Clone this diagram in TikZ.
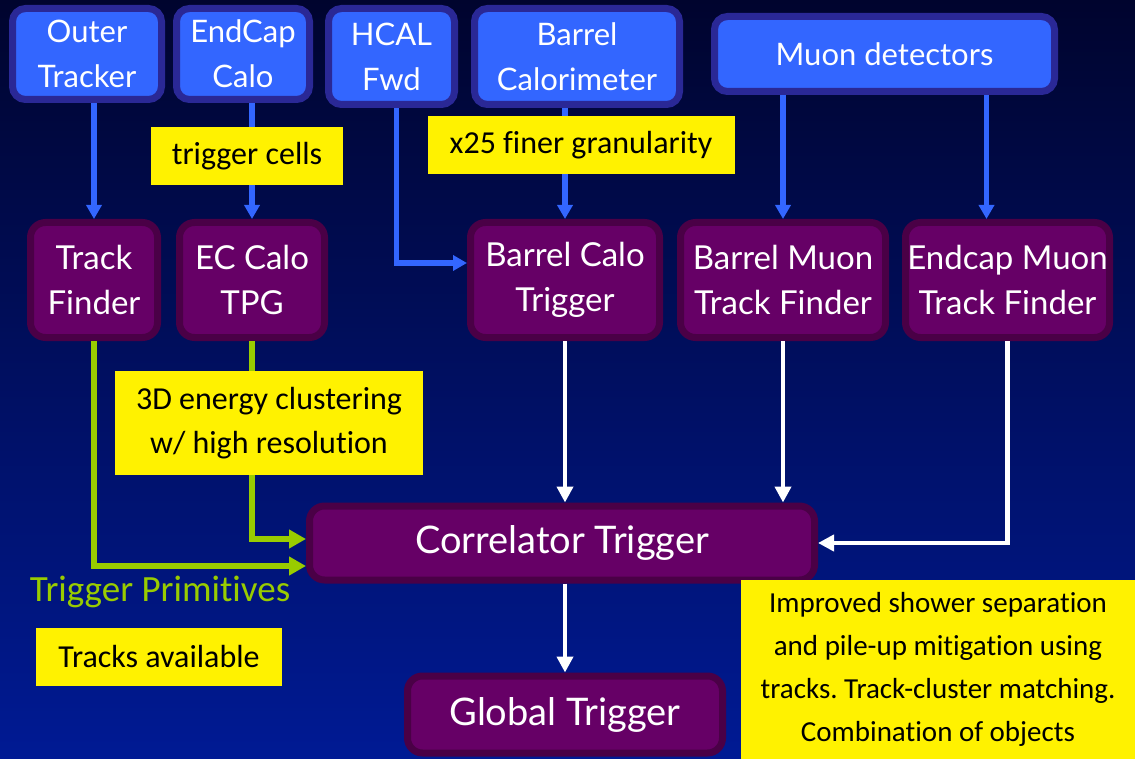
\documentclass[tikz,border=0pt]{standalone}
\usepackage{fontspec}
\setmainfont{Lato}
\newfontfamily\notefont[Ligatures=NoCommon]{Carlito}
\usetikzlibrary{positioning,arrows.meta}
\frenchspacing
\definecolor{bgtop}{RGB}{0,4,46}
\definecolor{bgbot}{RGB}{0,26,148}
\definecolor{detblue}{RGB}{51,102,255}
\definecolor{detedge}{RGB}{42,40,150}
\definecolor{trigpurple}{RGB}{102,0,102}
\definecolor{trigedge}{RGB}{74,0,70}
\definecolor{tpgreen}{RGB}{153,204,0}

\begin{document}
\begin{tikzpicture}[x=1pt,y=-1pt,
    detbox/.style={draw=detedge,fill=detblue,line width=7pt,rounded corners=13pt,text=white,align=center,
      font=\fontsize{31}{45}\selectfont,inner sep=0pt,minimum height=91pt},
    trigbox/.style={draw=trigedge,fill=trigpurple,line width=7pt,rounded corners=15pt,text=white,align=center,
      font=\fontsize{33}{45}\selectfont,inner sep=0pt,minimum height=115pt},
    note/.style={fill=yellow,text=black,align=center,font=\notefont\fontsize{32}{44}\selectfont,inner sep=0pt},
    bluearrow/.style={draw=detblue,line width=5.5pt,-{Triangle[length=14pt,width=15pt]}},
    greenarrow/.style={draw=tpgreen,line width=5.5pt,-{Triangle[length=17pt,width=18pt]}},
    whitearrow/.style={draw=white,line width=4.5pt,-{Triangle[length=16pt,width=16pt]}}]
    \shade[top color=bgtop,bottom color=bgbot] (0,0) rectangle (1135,759);
    \useasboundingbox (0,0) rectangle (1135,759);
    % detectors
    \node[detbox,minimum width=149pt] (ot) at (87,54) {Outer\\Tracker};
    \node[detbox,minimum width=133pt,right=8pt of ot] (ecc) {EndCap\\Calo};
    \node[detbox,minimum width=126pt,minimum height=96pt,right=12pt of ecc,yshift=-2.5pt] (hcal) {HCAL\\Fwd};
    \node[detbox,minimum width=205pt,minimum height=96pt,right=13pt of hcal] (bcal) {Barrel\\Calorimeter};
    \node[detbox,minimum width=340pt,minimum height=75pt,right=28pt of bcal,yshift=2.5pt] (muon) {Muon detectors};
    % trigger processors
    \node[trigbox,minimum width=127pt] (tf) at (94,280) {Track\\Finder};
    \node[trigbox,minimum width=145pt,right=15pt of tf] (ectpg) {EC Calo\\TPG};
    \node[trigbox,minimum width=189pt,right=139pt of ectpg] (bct) {Barrel Calo\\Trigger};
    \node[trigbox,minimum width=205pt,right=14pt of bct] (bmtf) {Barrel Muon\\Track Finder};
    \node[trigbox,minimum width=204pt,right=13pt of bmtf] (emtf) {Endcap Muon\\Track Finder};
    \node[trigbox,minimum width=505pt,minimum height=74pt,font=\fontsize{38}{40}\selectfont] (corr) at (562,543) {Correlator Trigger};
    \node[trigbox,minimum width=315pt,minimum height=77pt,font=\fontsize{38}{40}\selectfont,below=89pt of corr,xshift=3pt] (gt) {Global Trigger};
    % inputs
    \coordinate (emtfin) at ([xshift=-21pt]emtf.north);
    \draw[bluearrow] (tf.north |- ot.south) -- (tf.north);
    \draw[bluearrow] (ectpg.north |- ecc.south) -- (ectpg.north);
    \draw[bluearrow] ([xshift=5pt]hcal.south) |- ([yshift=17pt]bct.west);
    \draw[bluearrow] (bct.north |- bcal.south) -- (bct.north);
    \draw[bluearrow] (bmtf.north |- muon.south) -- (bmtf.north);
    \draw[bluearrow] (emtfin |- muon.south) -- (emtfin);
    \draw[greenarrow] (tf.south) |- ([yshift=-23pt]corr.west);
    \draw[greenarrow] (ectpg.south) |- ([yshift=4pt]corr.west);
    \draw[whitearrow] (bct.south) -- (bct.south |- corr.north);
    \draw[whitearrow] (bmtf.south) -- (bmtf.south |- corr.north);
    \draw[whitearrow] (emtf.south) |- (corr.east);
    \draw[whitearrow] (gt.north |- corr.south) -- (gt.north);
    % notes
    \node[note,minimum width=192pt,minimum height=58pt] (cells) at (247,156) {trigger cells};
    \node[note,minimum width=307pt,minimum height=58pt] (gran) at (581,145) {x25 finer granularity};
    \node[note,minimum width=308pt,minimum height=104pt] (clus) at (269,423) {3D energy clustering\\w/ high resolution};
    \node[note,minimum width=246pt,minimum height=58pt] (tracks) at (159,657) {Tracks available};
    \node[note,minimum width=394pt,minimum height=179pt,font=\notefont\fontsize{29}{43}\selectfont] (impr) at (938,669.5) {Improved shower separation\\and pile-up mitigation using\\tracks. Track-cluster matching.\\Combination of objects};
    \node[text=tpgreen,font=\notefont\fontsize{37}{37}\selectfont] (tplabel) at (160,592) {Trigger Primitives};
  \end{tikzpicture}
\end{document}
